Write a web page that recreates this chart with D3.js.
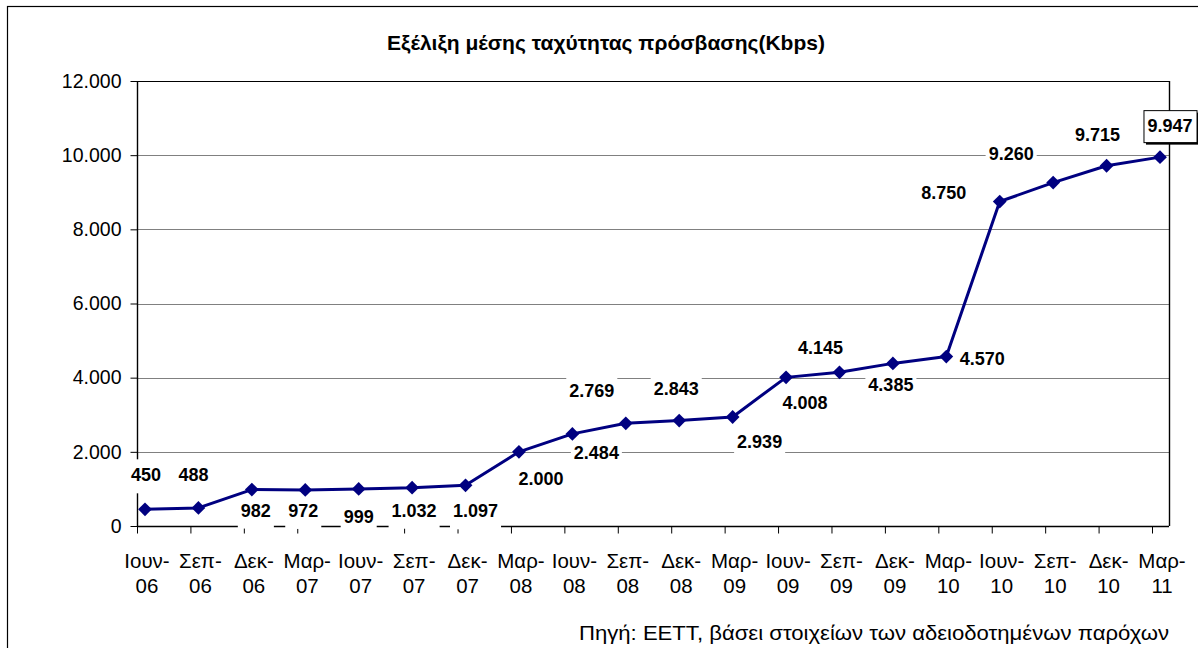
<!DOCTYPE html>
<html><head><meta charset="utf-8">
<script src="https://cdn.jsdelivr.net/npm/d3@7"></script>
<style>
body{margin:0;background:#fff}
svg{display:block}
text{font-family:Arial,"Liberation Sans",sans-serif;fill:#000}
</style>
</head><body>
<svg id="c" width="1198" height="648"></svg>
<script>
// ---- data ----
const months = ["Ιουν-","Σεπ-","Δεκ-","Μαρ-","Ιουν-","Σεπ-","Δεκ-","Μαρ-","Ιουν-","Σεπ-","Δεκ-","Μαρ-","Ιουν-","Σεπ-","Δεκ-","Μαρ-","Ιουν-","Σεπ-","Δεκ-","Μαρ-"];
const years = ["06","06","06","07","07","07","07","08","08","08","08","09","09","09","09","10","10","10","10","11"];
const speeds = [450,488,982,972,999,1032,1097,2000,2484,2769,2843,2939,4008,4145,4385,4570,8750,9260,9715,9947];
const valueLabels = ["450","488","982","972","999","1.032","1.097","2.000","2.484","2.769","2.843","2.939","4.008","4.145","4.385","4.570","8.750","9.260","9.715","9.947"];
const yTicks = [0,2000,4000,6000,8000,10000,12000];
const yTickLabels = ["0","2.000","4.000","6.000","8.000","10.000","12.000"];
const title = "Εξέλιξη μέσης ταχύτητας πρόσβασης(Kbps)";
const source = "Πηγή: ΕΕΤΤ, βάσει στοιχείων των αδειοδοτημένων παρόχων";

// ---- layout (label placement offsets in px, relative to the point) ----
const labelOffsets = [[1,-28],[-5,-27],[4,27],[-2,27],[0,34],[2,29],[10,32],[22,33],[24,25],[-34,-26],[-3,-26],[27,31],[19,32],[-19,-18],[-2,28],[36,8],[-56,-3],[-42,-23],[-9,-25],[10,-25]];
const boxedLabel = 19;

const svg = d3.select("#c");
const L = 137, R = 1169, T = 81, B = 526;
const idx = d3.range(speeds.length);
const x = d3.scalePoint().domain(idx).range([145, 1160]);
const xTick = d3.scalePoint().domain(idx).range([137, 1152]);
const y = d3.scaleLinear().domain([0, 12000]).range([B, T]);

// outer border
svg.append("rect").attr("x",7.5).attr("y",6.5).attr("width",1250).attr("height",700)
  .attr("fill","none").attr("stroke","#000").attr("stroke-width",1.2);

// title
svg.append("text").attr("x",606).attr("y",50).attr("text-anchor","middle")
  .attr("font-size",21).attr("font-weight","bold").text(title);

// gridlines
svg.append("g").selectAll("line").data(yTicks.filter(v=>v>0 && v<12000)).join("line")
  .attr("x1",L).attr("x2",R).attr("y1",d=>Math.round(y(d))+0.5).attr("y2",d=>Math.round(y(d))+0.5)
  .attr("stroke","#808080").attr("stroke-width",1.2);

// plot border top & right
svg.append("line").attr("x1",L).attr("x2",R).attr("y1",T+0.5).attr("y2",T+0.5).attr("stroke","#000").attr("stroke-width",1.2);
svg.append("line").attr("x1",R+0.5).attr("x2",R+0.5).attr("y1",T).attr("y2",B).attr("stroke","#000").attr("stroke-width",1.4);

// y axis
const yAxis = d3.axisLeft(y).tickValues(yTicks).tickSize(7).tickPadding(9)
  .tickFormat((d,i)=>yTickLabels[i]);
const gy = svg.append("g").attr("transform",`translate(${L+0.5},0)`).call(yAxis);
gy.select(".domain").remove();
gy.selectAll(".tick line").attr("stroke","#000");
gy.selectAll(".tick text").attr("font-size",19.5).attr("font-family",null).attr("fill","#000");
gy.append("line").attr("y1",T).attr("y2",B).attr("stroke","#000").attr("stroke-width",1.4);

// x axis
const xAxis = d3.axisBottom(xTick).tickSize(7).tickFormat("");
const gx = svg.append("g").attr("transform",`translate(0,${B+0.5})`).call(xAxis);
gx.select(".domain").remove();
gx.selectAll(".tick line").attr("stroke","#000");
gx.append("line").attr("x1",L).attr("x2",R).attr("stroke","#000").attr("stroke-width",1.4);

// x labels
const xl = svg.append("g").selectAll("text").data(idx).join("text")
  .attr("text-anchor","middle").attr("font-size",19.5)
  .attr("transform",d=>`translate(${x(d)+2},0) scale(1.05,1)`);
xl.append("tspan").attr("x",0).attr("y",568).text(d=>months[d]);
xl.append("tspan").attr("x",0).attr("y",593).text(d=>years[d]);

// label boxes & texts
const lbl = svg.append("g");
const texts = [];
idx.forEach(i=>{
  const cx = x(i)+labelOffsets[i][0], by = y(speeds[i])+labelOffsets[i][1];
  const t = lbl.append("text").attr("x",cx).attr("y",by).attr("text-anchor","middle")
    .attr("font-size",18).attr("font-weight","bold").text(valueLabels[i]);
  texts.push({i,t,cx,by});
});
const boxes = svg.insert("g", () => lbl.node());
texts.forEach(({i,t,cx,by})=>{
  const w = t.node().getComputedTextLength();
  if(i===boxedLabel){
    boxes.append("rect").attr("x",cx-w/2-4+2.5).attr("y",by-22+2.5).attr("width",w+8).attr("height",32)
      .attr("fill","#000");
    boxes.append("rect").attr("x",cx-w/2-4+0.5).attr("y",by-22+0.5).attr("width",w+8).attr("height",32)
      .attr("fill","#fff").attr("stroke","#000").attr("stroke-width",1);
  } else {
    boxes.append("rect").attr("x",cx-w/2-3).attr("y",by-22).attr("width",w+6).attr("height",34)
      .attr("fill","#fff");
  }
});

// line & markers
const line = d3.line().x(i=>x(i)).y(i=>y(speeds[i]));
svg.insert("path", () => lbl.node()).datum(idx).attr("d",line).attr("fill","none")
  .attr("stroke","#000080").attr("stroke-width",3).attr("stroke-linejoin","round");
svg.insert("g", () => lbl.node()).selectAll("path").data(idx).join("path")
  .attr("transform",i=>`translate(${x(i)},${y(speeds[i])}) rotate(45)`)
  .attr("d", d3.symbol().type(d3.symbolSquare).size(95)).attr("fill","#000080");

// source
svg.append("text").attr("x",1169).attr("y",640).attr("text-anchor","end").attr("font-size",19.5)
  .attr("textLength",590).attr("lengthAdjust","spacingAndGlyphs").text(source);
</script>
</body></html>
